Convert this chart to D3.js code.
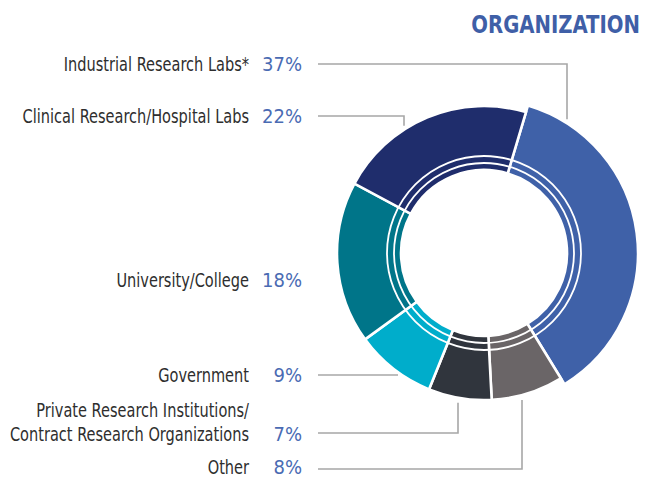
<!DOCTYPE html>
<html>
<head>
<meta charset="utf-8">
<script src="https://cdn.jsdelivr.net/npm/d3@7"></script>
<style>
  html, body { margin: 0; padding: 0; background: #ffffff; }
  svg { display: block; }
</style>
</head>
<body>
<div id="chart"></div>
<script>
// data, in clockwise order starting at the top
var categories = ["Industrial Research Labs*", "Other",
    "Private Research Institutions/\nContract Research Organizations",
    "Government", "University/College", "Clinical Research/Hospital Labs"];
var shares = [37, 8, 7, 9, 18, 22];
var shareLabels = ["37%", "8%", "7%", "9%", "18%", "22%"];
var colors = ["#3f61a8", "#6a6567", "#30353d", "#00adcb", "#007589", "#1f2d6c"];

var drawDonut = (function() {

    var cx = 484, cy = 253;
    var outerR = 147, innerR = 83;
    var labelRight = 249, pctRight = 302, lineStart = 318;
    var labelColor = "#2e2e2e", pctColor = "#4a6bb3", lineColor = "#a7a7a7";
    var fontFamily = "'DejaVu Sans Condensed', 'DejaVu Sans', sans-serif";

    // where each label sits and how its leader line runs (null = no line)
    var layout = [
        {y: 64,  lineY: 64,  bendX: 567},
        {y: 467, lineY: 469, bendX: 522},
        {y: 434, lineY: 433, bendX: 458},
        {y: 375, lineY: 375, bendX: null},
        {y: 280, lineY: null},
        {y: 116, lineY: 116, bendX: 404}
    ];

    // y where a vertical line at x meets the donut edge
    function edgeY(x, r, up) {
        var dx = x - cx;
        var dy = Math.sqrt(r * r - dx * dx);
        return up ? cy - dy : cy + dy;
    }

    // x where a horizontal line at y meets the donut edge, on the left
    function edgeX(y, r) {
        var dy = y - cy;
        return cx - Math.sqrt(r * r - dy * dy);
    }

    // squeezed text group, to look like a condensed face
    function squeezed(group, x, sx) {
        return group.append("g")
            .attr("transform", "translate(" + x + ",0) scale(" + sx + ",1)");
    }

    function addRing(group, arcs) {
        var ring = group.append("g")
            .attr("transform", "translate(" + cx + "," + cy + ")");

        ring.selectAll("path")
            .data(arcs)
            .enter().append("path")
            .style("fill", function(d, i) { return colors[i]; })
            .style("stroke", "#ffffff")
            .style("stroke-width", "2.6px")
            .attr("d", function(d, i) {
                // the largest slice sticks out a little
                var r = i === 0 ? outerR + 7 : outerR;
                return d3.arc().innerRadius(innerR).outerRadius(r)(d);
            });

        // two thin white rings near the hole
        [90, 97].forEach(function(r) {
            ring.append("circle")
                .attr("r", r)
                .style("fill", "none")
                .style("stroke", "#ffffff")
                .style("stroke-width", "1.8px");
        });
    }

    function addLabels(group, arcs) {
        categories.forEach(function(name, i) {
            var pos = layout[i];
            var lines = name.split("\n");
            var text = squeezed(group, labelRight, 0.83).append("text")
                .attr("text-anchor", "end")
                .style("font-family", fontFamily)
                .style("font-size", "19.5px")
                .style("fill", labelColor);
            lines.forEach(function(line, k) {
                text.append("tspan")
                    .attr("x", 0)
                    .attr("y", pos.y + 7 - (lines.length - 1 - k) * 24)
                    .text(line);
            });

            group.append("text")
                .attr("x", pctRight)
                .attr("y", pos.y + 7)
                .attr("text-anchor", "end")
                .style("font-family", fontFamily)
                .style("font-size", "20px")
                .style("fill", pctColor)
                .text(shareLabels[i]);

            if (pos.lineY === null) return;
            var pts;
            if (pos.bendX === null) {
                pts = [[lineStart, pos.lineY], [edgeX(pos.lineY, outerR) - 4, pos.lineY]];
            } else {
                var r = i === 0 ? outerR + 7 : outerR;
                var up = pos.lineY < cy;
                var endY = edgeY(pos.bendX, r, up) + (up ? -4 : 5);
                pts = [[lineStart, pos.lineY], [pos.bendX, pos.lineY], [pos.bendX, endY]];
            }
            group.append("path")
                .attr("d", d3.line()(pts))
                .style("fill", "none")
                .style("stroke", lineColor)
                .style("stroke-width", "1.6px");
        });
    }

    return {
        render: function(placement) {
            d3.select(placement).html("");
            var svg = d3.select(placement).append("svg")
                .attr("width", 646)
                .attr("height", 478);

            squeezed(svg, 640, 0.875).append("text")
                .attr("x", 0)
                .attr("y", 33)
                .attr("text-anchor", "end")
                .style("font-family", fontFamily)
                .style("font-weight", "bold")
                .style("font-size", "25px")
                .style("fill", "#3f5fa7")
                .text("ORGANIZATION");

            var pie = d3.pie()
                .sort(null)
                .startAngle(16.6 * Math.PI / 180)
                .endAngle(16.6 * Math.PI / 180 + 2 * Math.PI);
            var arcs = pie(shares);

            addRing(svg, arcs);
            addLabels(svg, arcs);
        }
    };
})();

drawDonut.render("#chart");
</script>
</body>
</html>
